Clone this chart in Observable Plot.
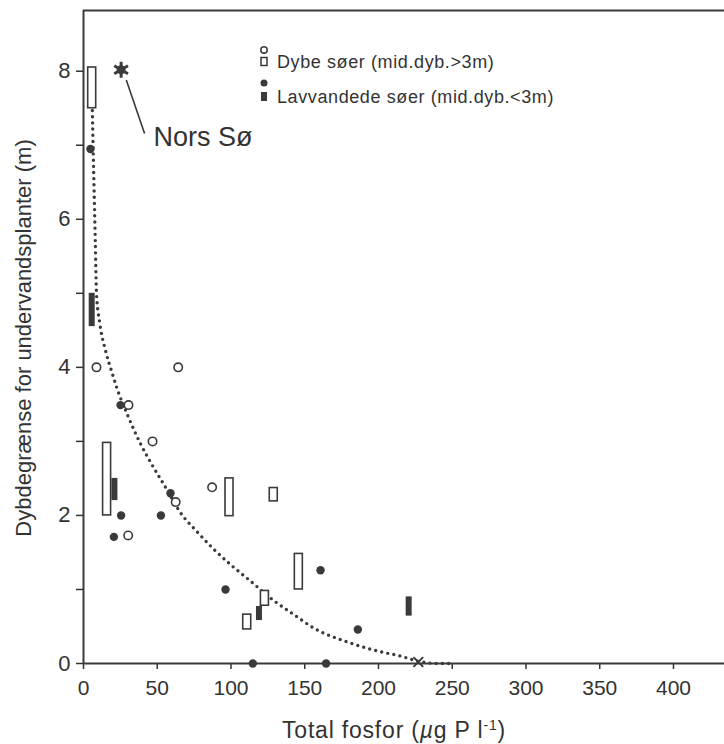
<!DOCTYPE html>
<html>
<head>
<meta charset="utf-8">
<script src="https://cdn.jsdelivr.net/npm/d3@7"></script>
<script src="https://cdn.jsdelivr.net/npm/@observablehq/plot@0.6"></script>
<style>
  body { margin: 0; background: #fff; }
  #wrap { position: relative; width: 724px; height: 744px; font-family: "Liberation Sans", Arial, sans-serif; color: #333; }
  #overlay { position: absolute; left: 0; top: 0; pointer-events: none; }
</style>
</head>
<body>
<div id="wrap"></div>
<script>
// ---- Data ----
// Deep lakes (Dybe søer), single observations: total P (µg/l), depth limit (m)
const deepX = [8.8, 30.5, 46.8, 62.5, 30.3, 87.2, 64.2];
const deepY = [4.0, 3.49, 3.0, 2.18, 1.73, 2.38, 4.0];
// Shallow lakes (Lavvandede søer), single observations
const shallowX = [4.7, 25.1, 25.5, 20.6, 52.5, 59.0, 96.3, 160.7, 186.0, 114.8, 164.5];
const shallowY = [6.95, 3.49, 2.0, 1.71, 2.0, 2.30, 1.0, 1.26, 0.46, 0.0, 0.0];
// Deep lakes, ranges
const deepRangeX  = [5.9, 16.0, 99.0, 129.0, 146.0, 123.0, 111.0];
const deepRangeLo = [7.5, 2.0, 1.99, 2.19, 1.0, 0.78, 0.46];
const deepRangeHi = [8.05, 2.98, 2.5, 2.37, 1.48, 0.98, 0.66];
// Shallow lakes, ranges
const shallowRangeX  = [5.9, 21.3, 119.3, 220.8];
const shallowRangeLo = [4.55, 2.2, 0.58, 0.64];
const shallowRangeHi = [5.0, 2.5, 0.77, 0.90];
// Cross marker on the x axis
const crossX = [227];
const crossY = [0.02];
// Nors Sø
const norsX = [25.5];
const norsY = [8.02];
const norsLabel = ["Nors Sø"];
const norsLineX1 = [29.0], norsLineY1 = [7.88], norsLineX2 = [41.4], norsLineY2 = [7.16];
const norsTextX = [47.5], norsTextY = [7.1];
// Dotted fitted curve
const curveX = [6.0, 6.6, 7.3, 8.0, 8.8, 11, 14.9, 19, 23, 30, 38.6, 46, 55, 66, 77, 88, 100, 111, 129, 142, 156, 179, 201, 215, 227, 240, 250];
const curveY = [7.47, 6.9, 6.3, 5.7, 5.0, 4.6, 4.23, 3.95, 3.7, 3.35, 2.97, 2.70, 2.4, 2.03, 1.78, 1.55, 1.33, 1.15, 0.85, 0.67, 0.48, 0.29, 0.16, 0.1, 0.03, 0.0, 0.0];
// Ticks
const xTicks = [0, 50, 100, 150, 200, 250, 300, 350, 400];
const yMajorTicks = [0, 2, 4, 6, 8];
const yMinorTicks = [1, 3, 5, 7];
// Texts
const yLabel = "Dybdegrænse for undervandsplanter (m)";
const legendLabels = ["Dybe søer (mid.dyb.>3m)", "Lavvandede søer (mid.dyb.<3m)"];

// ---- Build tables ----
const zip2 = (xs, ys) => xs.map((x, i) => ({x, y: ys[i]}));
const deepPts = zip2(deepX, deepY);
const shallowPts = zip2(shallowX, shallowY);
const crossPts = zip2(crossX, crossY);
const norsPts = zip2(norsX, norsY);
const curve = zip2(curveX, curveY);
const deepRanges = deepRangeX.map((x, i) => ({x, lo: deepRangeLo[i], hi: deepRangeHi[i]}));
const shallowRanges = shallowRangeX.map((x, i) => ({x, lo: shallowRangeLo[i], hi: shallowRangeHi[i]}));
const norsAnno = norsLabel.map((t, i) => ({t, x1: norsLineX1[i], y1: norsLineY1[i], x2: norsLineX2[i], y2: norsLineY2[i], tx: norsTextX[i], ty: norsTextY[i]}));

const ink = "#3a3a3a";
const xMax = 434.6, yMax = 8.82;

const chart = Plot.plot({
  width: 724,
  height: 744,
  marginLeft: 83,
  marginRight: 0,
  marginTop: 10,
  marginBottom: 81,
  style: {fontFamily: "'Liberation Sans', Arial, sans-serif", fontSize: "21px", color: "#333", background: "white", overflow: "visible"},
  x: {domain: [0, xMax]},
  y: {domain: [0, yMax]},
  marks: [
    Plot.axisX({ticks: xTicks, tickSize: 6, tickPadding: 11, label: null, strokeWidth: 1.5, fontSize: 21}),
    Plot.axisY({ticks: yMajorTicks, tickSize: 7, tickPadding: 6, label: null, strokeWidth: 1.5, fontSize: 22}),
    Plot.axisY({ticks: yMinorTicks, tickSize: 7, tickFormat: () => "", label: null, strokeWidth: 1.5}),
    Plot.ruleX([0], {stroke: ink, strokeWidth: 2}),
    Plot.ruleY([0], {stroke: ink, strokeWidth: 2}),
    Plot.ruleY([yMax], {stroke: ink, strokeWidth: 2.2}),
    Plot.line(curve, {x: "x", y: "y", curve: "monotone-x", stroke: ink, strokeWidth: 3.4, strokeDasharray: "0 6.2", strokeLinecap: "round"}),
    Plot.rect(deepRanges, {x1: "x", x2: "x", y1: "lo", y2: "hi", insetLeft: -4, insetRight: -4, fill: "white", stroke: ink, strokeWidth: 1.6}),
    Plot.rect(shallowRanges, {x1: "x", x2: "x", y1: "lo", y2: "hi", insetLeft: -3, insetRight: -3, fill: ink}),
    Plot.dot(deepPts, {x: "x", y: "y", r: 4.2, fill: "white", stroke: ink, strokeWidth: 1.6}),
    Plot.dot(shallowPts, {x: "x", y: "y", r: 4.2, fill: ink}),
    Plot.dot(crossPts, {x: "x", y: "y", r: 4.5, symbol: "times", stroke: ink, strokeWidth: 2}),
    Plot.dot(norsPts, {x: "x", y: "y", r: 7.5, symbol: "asterisk", stroke: ink, strokeWidth: 3}),
    Plot.dot(norsPts, {x: "x", y: "y", r: 4.5, fill: ink}),
    Plot.link(norsAnno, {x1: "x1", y1: "y1", x2: "x2", y2: "y2", stroke: ink, strokeWidth: 1.6}),
    Plot.text(norsAnno, {x: "tx", y: "ty", text: "t", textAnchor: "start", fontSize: 27, fill: "#333"})
  ]
});
const wrap = document.getElementById("wrap");
wrap.appendChild(chart);

// ---- Overlay: axis titles and legend ----
const ov = d3.select(wrap).append("svg").attr("id", "overlay").attr("width", 724).attr("height", 744)
  .attr("font-family", "'Liberation Sans', Arial, sans-serif").attr("fill", "#333");

// y axis title
ov.append("text")
  .attr("transform", "translate(31,338) rotate(-90)")
  .attr("text-anchor", "middle")
  .attr("font-size", 22)
  .text(yLabel);

// x axis title with superscript
const xt = ov.append("text").attr("x", 282).attr("y", 738).attr("font-size", 23).attr("letter-spacing", "0.8px");
xt.append("tspan").text("Total fosfor (");
xt.append("tspan").attr("font-style", "italic").text("µ");
xt.append("tspan").text("g P l");
xt.append("tspan").attr("font-size", 14).attr("dy", -8).text("-1");
xt.append("tspan").attr("dy", 8).text(")");

// legend
const lg = ov.append("g");
lg.append("circle").attr("cx", 264).attr("cy", 50).attr("r", 3.2).attr("fill", "white").attr("stroke", ink).attr("stroke-width", 1.5);
lg.append("rect").attr("x", 261).attr("y", 57.5).attr("width", 6).attr("height", 8).attr("fill", "white").attr("stroke", ink).attr("stroke-width", 1.5);
lg.append("circle").attr("cx", 264).attr("cy", 83).attr("r", 3.5).attr("fill", ink);
lg.append("rect").attr("x", 261).attr("y", 92).attr("width", 6).attr("height", 9).attr("fill", ink);
lg.append("text").attr("x", 277).attr("y", 68).attr("font-size", 18).attr("letter-spacing", "0.6px").text(legendLabels[0]);
lg.append("text").attr("x", 277).attr("y", 103).attr("font-size", 18).attr("letter-spacing", "0.6px").text(legendLabels[1]);
</script>
</body>
</html>
